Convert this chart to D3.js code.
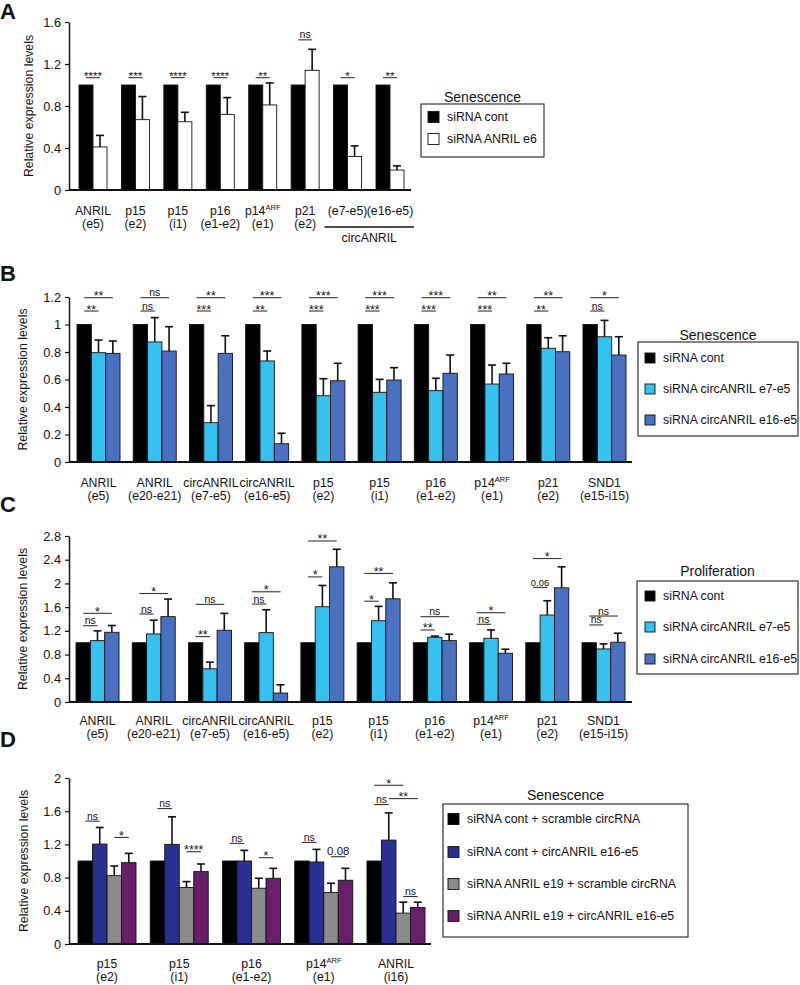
<!DOCTYPE html>
<html><head><meta charset="utf-8">
<script src="https://cdn.jsdelivr.net/npm/d3@7"></script>
<style>body{margin:0;background:#fff} text{font-family:"Liberation Sans",Arial,sans-serif;fill:#111}</style>
</head><body><svg id="c" width="800" height="985"></svg>
<script>
// ---------- Panel A data ----------
const aCats1 = ["ANRIL","p15","p15","p16","p14ARF","p21","(e7-e5)","(e16-e5)"];
const aCats2 = ["(e5)","(e2)","(i1)","(e1-e2)","(e1)","(e2)","",""];
const aSeries = ["siRNA cont","siRNA ANRIL e6"];
const aCont = [1,1,1,1,1,1,1,1];
const aKnock = [0.41,0.67,0.65,0.72,0.81,1.14,0.32,0.19];
const aKnockErr = [0.11,0.22,0.09,0.16,0.21,0.20,0.10,0.04];
const aSigLabel = ["****","***","****","****","**","ns","*","**"];
const aSigY = [1.07,1.07,1.07,1.07,1.07,1.43,1.07,1.07];
const aTicks = [0,0.4,0.8,1.2,1.6];

// ---------- Panels B and C shared categories ----------
const bcCats1 = ["ANRIL","ANRIL","circANRIL","circANRIL","p15","p15","p16","p14ARF","p21","SND1"];
const bcCats2 = ["(e5)","(e20-e21)","(e7-e5)","(e16-e5)","(e2)","(i1)","(e1-e2)","(e1)","(e2)","(e15-i15)"];
const bcSeries = ["siRNA cont","siRNA circANRIL e7-e5","siRNA circANRIL e16-e5"];

// ---------- Panel B data (Senescence) ----------
const bCont = [1,1,1,1,1,1,1,1,1,1];
const bE7 = [0.795,0.873,0.286,0.735,0.482,0.507,0.519,0.567,0.827,0.911];
const bE7Err = [0.092,0.177,0.124,0.072,0.124,0.094,0.090,0.138,0.077,0.119];
const bE16 = [0.790,0.807,0.790,0.133,0.591,0.596,0.645,0.640,0.802,0.778];
const bE16Err = [0.090,0.177,0.128,0.076,0.127,0.090,0.133,0.078,0.116,0.133];
const bSigUpper = ["**","ns","**","***","***","***","***","**","**","*"];
const bSigLower = ["**","ns","***","**","***","***","***","***","**","ns"];
const bSigUpperY = [1.195,1.195,1.195,1.195,1.195,1.195,1.195,1.195,1.195,1.195];
const bSigLowerY = [1.098,1.098,1.098,1.098,1.098,1.098,1.098,1.098,1.098,1.098];
const bTicks = [0,0.2,0.4,0.6,0.8,1,1.2];

// ---------- Panel C data (Proliferation) ----------
const cCont = [1,1,1,1,1,1,1,1,1,1];
const cE7 = [1.035,1.148,0.560,1.170,1.607,1.371,1.092,1.075,1.467,0.895];
const cE7Err = [0.165,0.232,0.112,0.386,0.359,0.242,0.020,0.140,0.241,0.085];
const cE16 = [1.176,1.440,1.210,0.151,2.280,1.741,1.035,0.823,1.926,1.008];
const cE16Err = [0.114,0.296,0.285,0.139,0.296,0.269,0.108,0.067,0.354,0.152];
const cSigUpper = ["*","*","ns","*","**","**","ns","*","*","ns"];
const cSigUpperY = [1.496,1.830,1.647,1.859,2.716,2.168,1.439,1.506,2.420,1.450];
const cSigLower = ["ns","ns","**","ns","*","*","**","ns","0.06","ns"];
const cSigLowerY = [1.287,1.484,1.103,1.652,2.110,1.700,1.215,1.311,1.933,1.300];
const cTicks = [0,0.4,0.8,1.2,1.6,2,2.4,2.8];

// ---------- Panel D data ----------
const dCats1 = ["p15","p15","p16","p14ARF","ANRIL"];
const dCats2 = ["(e2)","(i1)","(e1-e2)","(e1)","(i16)"];
const dSeries = ["siRNA cont + scramble circRNA","siRNA cont + circANRIL e16-e5","siRNA ANRIL e19 + scramble circRNA","siRNA ANRIL e19 + circANRIL e16-e5"];
const dCont = [1,1,1,1,1];
const dCirc = [1.204,1.200,1.000,0.988,1.252];
const dCircErr = [0.200,0.332,0.128,0.152,0.328];
const dKdScr = [0.823,0.680,0.672,0.620,0.372];
const dKdScrErr = [0.117,0.072,0.120,0.112,0.132];
const dKdCirc = [0.980,0.872,0.792,0.768,0.440];
const dKdCircErr = [0.112,0.092,0.120,0.144,0.064];
const dSigGroup = [0,0,1,1,2,2,3,3,4,4,4,4];
const dSigFrom = [0,2,0,2,0,2,0,2,0,0,1,2];
const dSigTo = [1,3,1,3,1,3,1,3,1,2,3,3];
const dSigLabel = ["ns","*","ns","****","ns","*","ns","0.08","ns","*","**","ns"];
const dSigY = [1.48,1.284,1.632,1.112,1.212,1.04,1.224,1.052,1.68,1.912,1.752,0.572];
const dTicks = [0,0.4,0.8,1.2,1.6,2];

// ---------- drawing ----------
const svg = d3.select("#c");
const fmt = d => String(+d.toFixed(2));
const FS = 12.3;

function catLabel(sel, txt) {
  if (txt === "p14ARF") {
    sel.append("tspan").text("p14");
    sel.append("tspan").text("ARF").attr("font-size", 7.5).attr("dy", -5);
  } else sel.text(txt);
}

function drawPanel(p) {
  const g = svg.append("g");
  const x0 = d3.scaleBand().domain(d3.range(p.cats1.length)).range(p.xr).paddingInner(p.pad).paddingOuter(0);
  const x1 = d3.scaleBand().domain(d3.range(p.series.length)).range([0, x0.bandwidth()]);
  const y = d3.scaleLinear().domain([0, p.yMax]).range(p.yr);
  const bw = x1.bandwidth();

  const ax = g.append("g").attr("transform", `translate(${p.axX},0)`)
    .call(d3.axisLeft(y).tickValues(p.ticks).tickFormat(fmt).tickSize(4).tickSizeOuter(0).tickPadding(4));
  ax.select(".domain").attr("stroke", "#111").attr("stroke-width", 1.5);
  ax.selectAll(".tick line").attr("stroke", "#111").attr("stroke-width", 1.2);
  ax.selectAll(".tick text").attr("font-size", 12.8).attr("font-family", "Liberation Sans, Arial, sans-serif").attr("fill", "#111");

  p.series.forEach((s, si) => {
    g.append("g").selectAll("rect").data(s.values).join("rect")
      .attr("x", (d, i) => x0(i) + x1(si)).attr("y", d => y(d))
      .attr("width", bw).attr("height", d => y(0) - y(d))
      .attr("fill", s.color).attr("stroke", "#111").attr("stroke-width", 0.9);
    if (s.err) {
      const eg = g.append("g").attr("stroke", "#111").attr("stroke-width", 1.6);
      s.values.forEach((v, i) => {
        const cx = x0(i) + x1(si) + bw / 2;
        const top = y(v + s.err[i]);
        eg.append("line").attr("x1", cx).attr("x2", cx).attr("y1", y(v)).attr("y2", top);
        eg.append("line").attr("x1", cx - 4).attr("x2", cx + 4).attr("y1", top).attr("y2", top);
      });
    }
  });

  g.append("line").attr("x1", p.axX).attr("x2", p.axEnd).attr("y1", y(0)).attr("y2", y(0))
    .attr("stroke", "#111").attr("stroke-width", 1.8);

  // category labels
  p.cats1.forEach((c, i) => {
    const cx = x0(i) + x0.bandwidth() / 2;
    const t1 = g.append("text").attr("x", cx).attr("y", y(0) + p.lab1).attr("text-anchor", "middle").attr("font-size", FS);
    catLabel(t1, c);
    if (p.cats2[i]) g.append("text").attr("x", cx).attr("y", y(0) + p.lab2).attr("text-anchor", "middle").attr("font-size", FS).text(p.cats2[i]);
  });

  // significance annotations
  const sg = g.append("g");
  p.sig.forEach(s => {
    const xa = x0(s.g) + x1(s.a) + bw / 2, xb = x0(s.g) + x1(s.b) + bw / 2;
    const yy = y(s.v);
    sg.append("line").attr("x1", xa).attr("x2", xb).attr("y1", yy).attr("y2", yy).attr("stroke", "#333").attr("stroke-width", 1.1);
    const num = /\d/.test(s.label);
    const star = s.label.includes("*");
    sg.append("text").attr("x", (xa + xb) / 2).attr("y", yy + (star ? 2.5 : -1.5))
      .attr("text-anchor", "middle").attr("font-size", num ? p.numFS : (star ? p.starFS : 10.5))
      .text(s.label);
  });

  // y label
  g.append("text").attr("transform", `translate(${p.ylabX},${(p.yr[0] + p.yr[1]) / 2}) rotate(-90)`)
    .attr("text-anchor", "middle").attr("font-size", FS).text("Relative expression levels");
  // panel letter
  g.append("text").attr("x", 0).attr("y", p.letterY).attr("font-size", 22).attr("font-weight", "bold").text(p.letter);

  // legend
  const L = p.legend;
  g.append("text").attr("x", L.x + L.w / 2).attr("y", L.titleY).attr("text-anchor", "middle").attr("font-size", 14).text(L.title);
  g.append("rect").attr("x", L.x).attr("y", L.y).attr("width", L.w).attr("height", L.h)
    .attr("fill", "none").attr("stroke", "#333").attr("stroke-width", 1.2);
  p.series.forEach((s, si) => {
    const iy = L.itemY[si];
    g.append("rect").attr("x", L.sqX).attr("y", iy - L.sq / 2).attr("width", L.sq).attr("height", L.sq)
      .attr("fill", s.color).attr("stroke", "#111").attr("stroke-width", 0.9);
    g.append("text").attr("x", L.txtX).attr("y", iy + 4.3).attr("font-size", FS).text(s.name);
  });
  return { g, x0, x1, y };
}

// Panel A
const pa = drawPanel({
  cats1: aCats1, cats2: aCats2, xr: [79, 404], pad: 0.34, yMax: 1.6, yr: [190, 22], ticks: aTicks,
  axX: 69, axEnd: 411, lab1: 25, lab2: 38, ylabX: 33, letter: "A", letterY: 19, starFS: 11.5, numFS: 10,
  series: [
    { name: aSeries[0], values: aCont, color: "#000" },
    { name: aSeries[1], values: aKnock, err: aKnockErr, color: "#fff" }],
  sig: aSigLabel.map((l, i) => ({ g: i, a: 0, b: 1, label: l, v: aSigY[i] })),
  legend: { title: "Senescence", titleY: 102, x: 421, y: 104, w: 123, h: 53, sqX: 428, sq: 11, txtX: 447, itemY: [117, 139] }
});
// circANRIL group label in A
{
  const x0 = pa.x0;
  const xa = x0(6) - 9, xb = x0(7) + x0.bandwidth() + 10;
  pa.g.append("line").attr("x1", xa).attr("x2", xb).attr("y1", 227).attr("y2", 227).attr("stroke", "#111").attr("stroke-width", 1.6);
  pa.g.append("text").attr("x", (xa + xb) / 2).attr("y", 242).attr("text-anchor", "middle").attr("font-size", FS).text("circANRIL");
}

// Panel B
drawPanel({
  cats1: bcCats1, cats2: bcCats2, xr: [77, 626], pad: 0.235, yMax: 1.2, yr: [462, 297], ticks: bTicks,
  axX: 69, axEnd: 632, lab1: 25, lab2: 38, ylabX: 27, letter: "B", letterY: 281, starFS: 12.5, numFS: 10,
  series: [
    { name: bcSeries[0], values: bCont, color: "#000" },
    { name: bcSeries[1], values: bE7, err: bE7Err, color: "#35c2ef" },
    { name: bcSeries[2], values: bE16, err: bE16Err, color: "#4a70c2" }],
  sig: bSigUpper.map((l, i) => ({ g: i, a: 0, b: 2, label: l, v: bSigUpperY[i] }))
    .concat(bSigLower.map((l, i) => ({ g: i, a: 0, b: 1, label: l, v: bSigLowerY[i] }))),
  legend: { title: "Senescence", titleY: 340, x: 638, y: 342, w: 160, h: 94, sqX: 645, sq: 10, txtX: 663, itemY: [358, 389, 420] }
});

// Panel C
drawPanel({
  cats1: bcCats1, cats2: bcCats2, xr: [76, 625], pad: 0.235, yMax: 2.8, yr: [702, 536], ticks: cTicks,
  axX: 69, axEnd: 632, lab1: 23, lab2: 36, ylabX: 27, letter: "C", letterY: 512, starFS: 12.5, numFS: 9.5,
  series: [
    { name: bcSeries[0], values: cCont, color: "#000" },
    { name: bcSeries[1], values: cE7, err: cE7Err, color: "#35c2ef" },
    { name: bcSeries[2], values: cE16, err: cE16Err, color: "#4a70c2" }],
  sig: cSigUpper.map((l, i) => ({ g: i, a: 0, b: 2, label: l, v: cSigUpperY[i] }))
    .concat(cSigLower.map((l, i) => ({ g: i, a: 0, b: 1, label: l, v: cSigLowerY[i] }))),
  legend: { title: "Proliferation", titleY: 576, x: 637, y: 581, w: 161, h: 93, sqX: 645, sq: 10, txtX: 663, itemY: [596, 627, 659] }
});

// Panel D
drawPanel({
  cats1: dCats1, cats2: dCats2, xr: [78, 425], pad: 0.197, yMax: 2, yr: [944, 778], ticks: dTicks,
  axX: 69, axEnd: 431, lab1: 24, lab2: 37, ylabX: 28, letter: "D", letterY: 747, starFS: 12.5, numFS: 11.5,
  series: [
    { name: dSeries[0], values: dCont, color: "#000" },
    { name: dSeries[1], values: dCirc, err: dCircErr, color: "#2b3192" },
    { name: dSeries[2], values: dKdScr, err: dKdScrErr, color: "#8c8c8c" },
    { name: dSeries[3], values: dKdCirc, err: dKdCircErr, color: "#6a1d6c" }],
  sig: dSigLabel.map((l, i) => ({ g: dSigGroup[i], a: dSigFrom[i], b: dSigTo[i], label: l, v: dSigY[i] })),
  legend: { title: "Senescence", titleY: 800, x: 443, y: 804, w: 245, h: 133, sqX: 448, sq: 11, txtX: 467, itemY: [819, 852, 884, 916] }
});
</script></body></html>
